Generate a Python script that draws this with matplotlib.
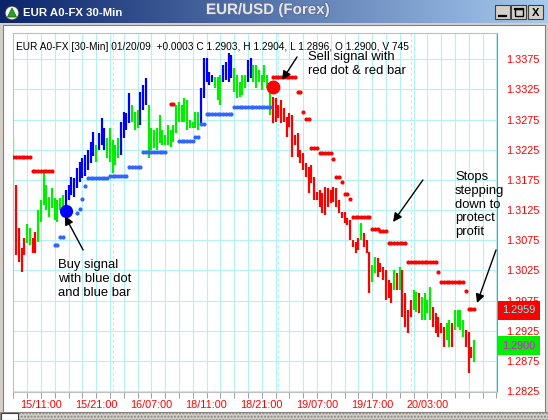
import numpy as np
import matplotlib.pyplot as plt
import matplotlib.transforms as mtransforms
import matplotlib.patheffects as pe
from matplotlib.patches import Rectangle, Circle, Polygon
from matplotlib.colors import LinearSegmentedColormap

plt.rcParams['font.family'] = ['Liberation Sans', 'DejaVu Sans']

# EUR A0-FX, 30-minute bars from 15/06:00 onwards (bar index on the x axis)
highs = [1.3241, 1.3166, 1.3095, 1.3062, 1.3079, 1.3102, 1.3095, 1.3079, 1.3089, 1.3125,
         1.3142, 1.3186, 1.3166, 1.3147, 1.3161, 1.3145, 1.3142, 1.3145, 1.3150, 1.3158,
         1.3166, 1.3180, 1.3178, 1.3195, 1.3205, 1.3211, 1.3216, 1.3224, 1.3238, 1.3254,
         1.3233, 1.3253, 1.3277, 1.3261, 1.3244, 1.3261, 1.3241, 1.3233, 1.3244, 1.3271,
         1.3287, 1.3286, 1.3319, 1.3299, 1.3287, 1.3291, 1.3321, 1.3332, 1.3344, 1.3299,
         1.3261, 1.3258, 1.3261, 1.3282, 1.3258, 1.3249, 1.3266, 1.3258, 1.3266, 1.3299,
         1.3304, 1.3299, 1.3311, 1.3307, 1.3274, 1.3271, 1.3287, 1.3287, 1.3327, 1.3377,
         1.3377, 1.3354, 1.3349, 1.3345, 1.3345, 1.3349, 1.3365, 1.3370, 1.3385, 1.3382,
         1.3360, 1.3349, 1.3337, 1.3349, 1.3349, 1.3374, 1.3377, 1.3365, 1.3365, 1.3357,
         1.3349, 1.3365, 1.3349, 1.3327, 1.3312, 1.3311, 1.3299, 1.3307, 1.3294, 1.3279,
         1.3286, 1.3282, 1.3249, 1.3253, 1.3224, 1.3220, 1.3203, 1.3196, 1.3200, 1.3180,
         1.3155, 1.3158, 1.3153, 1.3163, 1.3161, 1.3158, 1.3163, 1.3161, 1.3142, 1.3122,
         1.3122, 1.3112, 1.3108, 1.3075, 1.3072, 1.3079, 1.3103, 1.3087, 1.3075, 1.3056,
         1.3034, 1.3047, 1.3046, 1.3037, 1.3031, 1.3026, 1.3009, 1.3004, 1.3026, 1.3021,
         1.3031, 1.3026, 1.2988, 1.2959, 1.2976, 1.2993, 1.2989, 1.2988, 1.2981, 1.2988,
         1.2976, 1.2998, 1.2964, 1.2954, 1.2948, 1.2938, 1.2931, 1.2938, 1.2943, 1.2938,
         1.2959, 1.2959, 1.2959, 1.2943, 1.2926, 1.2923, 1.2898, 1.2910]
lows = [1.3166, 1.3051, 1.3039, 1.3023, 1.3051, 1.3071, 1.3067, 1.3054, 1.3054, 1.3072,
        1.3105, 1.3133, 1.3125, 1.3113, 1.3128, 1.3108, 1.3105, 1.3125, 1.3122, 1.3133,
        1.3142, 1.3150, 1.3147, 1.3161, 1.3172, 1.3178, 1.3181, 1.3191, 1.3203, 1.3215,
        1.3205, 1.3224, 1.3233, 1.3224, 1.3211, 1.3205, 1.3186, 1.3200, 1.3211, 1.3216,
        1.3244, 1.3258, 1.3269, 1.3271, 1.3258, 1.3261, 1.3266, 1.3291, 1.3299, 1.3211,
        1.3224, 1.3228, 1.3224, 1.3236, 1.3233, 1.3233, 1.3233, 1.3229, 1.3238, 1.3253,
        1.3271, 1.3271, 1.3271, 1.3258, 1.3261, 1.3261, 1.3261, 1.3258, 1.3266, 1.3311,
        1.3337, 1.3332, 1.3337, 1.3327, 1.3307, 1.3299, 1.3337, 1.3340, 1.3337, 1.3344,
        1.3321, 1.3311, 1.3312, 1.3316, 1.3327, 1.3337, 1.3344, 1.3337, 1.3327, 1.3337,
        1.3324, 1.3337, 1.3327, 1.3282, 1.3269, 1.3271, 1.3277, 1.3269, 1.3271, 1.3246,
        1.3263, 1.3213, 1.3233, 1.3213, 1.3203, 1.3191, 1.3180, 1.3153, 1.3170, 1.3142,
        1.3142, 1.3130, 1.3120, 1.3117, 1.3130, 1.3137, 1.3138, 1.3130, 1.3120, 1.3112,
        1.3103, 1.3100, 1.3075, 1.3064, 1.3054, 1.3059, 1.3075, 1.3064, 1.3054, 1.2988,
        1.3006, 1.3021, 1.3014, 1.3023, 1.3009, 1.2976, 1.2979, 1.2971, 1.2993, 1.2993,
        1.2993, 1.2948, 1.2931, 1.2921, 1.2948, 1.2959, 1.2956, 1.2954, 1.2943, 1.2943,
        1.2954, 1.2943, 1.2931, 1.2921, 1.2915, 1.2921, 1.2898, 1.2910, 1.2898, 1.2898,
        1.2926, 1.2931, 1.2926, 1.2915, 1.2898, 1.2855, 1.2880, 1.2873]

# bar colouring in runs: G = up, R = down / short, B = long after buy signal
side_runs = [('G', 1), ('R', 4), ('G', 2), ('R', 2), ('G', 10), ('B', 11), ('G', 1),
             ('B', 3), ('G', 5), ('B', 4), ('G', 3), ('B', 3), ('G', 19), ('B', 5),
             ('G', 3), ('B', 4), ('G', 5), ('B', 2), ('G', 7), ('R', 32), ('G', 1),
             ('R', 3), ('G', 2), ('R', 6), ('G', 1), ('R', 1), ('G', 1), ('R', 4),
             ('G', 2), ('R', 1), ('G', 4), ('R', 5), ('G', 2), ('R', 1), ('G', 4),
             ('R', 3), ('G', 1)]

# trailing stops: (first bar, last bar, stop price)
red_stops = [(0, 6, 1.3213), (7, 14, 1.3190), (57, 58, 1.3301), (94, 102, 1.3345),
             (103, 104, 1.3321), (105, 105, 1.3287), (106, 107, 1.3276), (108, 110, 1.3228),
             (111, 115, 1.3220), (116, 116, 1.3210), (117, 118, 1.3180), (119, 119, 1.3172),
             (120, 121, 1.3152), (122, 122, 1.3143), (123, 129, 1.3113), (130, 132, 1.3094),
             (133, 135, 1.3090), (136, 142, 1.3071), (143, 153, 1.3039), (154, 154, 1.3023),
             (155, 163, 1.3006), (164, 164, 1.2991), (165, 167, 1.2961)]
blue_stops = [(15, 16, 1.3067), (17, 18, 1.3080), (23, 23, 1.3120), (24, 24, 1.3127),
              (25, 25, 1.3143), (26, 26, 1.3165), (27, 34, 1.3178), (35, 41, 1.3182),
              (42, 46, 1.3196), (47, 55, 1.3221), (60, 65, 1.3239), (66, 67, 1.3246),
              (68, 69, 1.3268), (70, 79, 1.3284), (80, 93, 1.3296)]

buy_signal = (19, 1.3123)
sell_signal = (94, 1.3329)

tick_pos = [10, 30, 50, 70, 90, 110, 130, 150]
tick_labels = ['15/11:00', '15/21:00', '16/07:00', '18/11:00',
               '18/21:00', '19/07:00', '19/17:00', '20/03:00']
day_breaks = [36, 96, 144]
price_ticks = [1.3375, 1.3325, 1.3275, 1.3225, 1.3175, 1.3125,
               1.3075, 1.3025, 1.2975, 1.2925, 1.2875, 1.2825]
stop_quote = 1.2959
last_quote = 1.2900

header = ('EUR A0-FX [30-Min] 01/20/09  +0.0003 C 1.2903, H 1.2904, '
          'L 1.2896, O 1.2900, V 745')

COLORS = {'G': '#00ee00', 'R': '#ff0000', 'B': '#0000ff'}
GRID = '#b4f2f2'
W, H = 548, 420

fig = plt.figure(figsize=(W / 100, H / 100), dpi=100, facecolor='#d4d0c8')

# window chrome, drawn in pixel units
bg = fig.add_axes([0, 0, 1, 1])
bar_cmap = LinearSegmentedColormap.from_list('tbar', ['#0a246a', '#a6caf0'])
bg.imshow(np.linspace(0, 1, 256).reshape(1, -1), cmap=bar_cmap,
          extent=(0, W, 23, 0), aspect='auto')
bg.add_patch(Rectangle((3, 25), W - 6, 387, fc='white', ec='#808080', lw=0.8))
bg.add_patch(Rectangle((0, 412), W, 8, fc='#d4d0c8', ec='#808080', lw=0.6,
                       hatch='.....'))
bg.add_patch(Rectangle((1, 413), 17, 7, fc='white', ec='#404040', lw=0.8))
bg.add_patch(Circle((12, 13), 7, fc='#f4f4f4', ec='#303030', lw=0.8))
bg.add_patch(Polygon([(7.5, 17), (12, 8), (16.5, 17)], fc='#2aa02a', ec='#106010', lw=0.5))
bg.text(23, 13.5, 'EUR A0-FX 30-Min', color='white', fontsize=8.2,
        fontweight='bold', va='center')
bg.text(206, 10, 'EUR/USD (Forex)', color='#e6e6ea', fontsize=10.9,
        fontweight='bold', va='center',
        path_effects=[pe.withStroke(linewidth=1.4, foreground='#5a6f9a')])
for x0 in (495, 511, 528):
    bg.add_patch(Rectangle((x0, 5), 15, 14, fc='#d4d0c8', ec='#404040', lw=0.8))
bg.plot([499, 506], [16, 16], color='black', lw=1.6)
bg.add_patch(Rectangle((514.5, 8.5), 8, 7.5, fill=False, ec='black', lw=1.0))
bg.plot([514.5, 522.5], [8.8, 8.8], color='black', lw=1.6)
bg.text(535.5, 12.5, 'X', fontsize=8, fontweight='bold', ha='center', va='center')
bg.set_xlim(0, W)
bg.set_ylim(H, 0)
bg.axis('off')

# price panel
ax = fig.add_axes([12.5 / W, 1 - 392 / H, (497 - 12.5) / W, (392 - 33) / H])
ax.set_facecolor('none')
ax.set_xlim(-0.29, 175.25)
ax.set_ylim(1.28236, 1.34183)

sides = ''.join(s * n for s, n in side_runs)
idx = np.arange(len(highs))
ax.vlines(idx, lows, highs, colors=[COLORS[s] for s in sides], lw=1.6, zorder=2)

for runs, col in ((red_stops, '#ff0000'), (blue_stops, '#3366ff')):
    for first, last, level in runs:
        xs = np.arange(first, last + 1)
        ax.plot(xs, np.full(len(xs), level), 'o', ms=3.0, mew=0, color=col, zorder=3)

ax.plot(*buy_signal, 'o', ms=9.5, mew=0, color='#0000ff', zorder=4)
ax.plot(*sell_signal, 'o', ms=10, mew=0, color='#ff0000', zorder=4)

ax.set_xticks(tick_pos)
ax.set_xticklabels(tick_labels)
ax.set_xticks(np.arange(0, 176, 5), minor=True)
ax.tick_params(axis='x', which='both', length=4, width=0.7, color='#a0a0a0',
               labelcolor='red', labelsize=7.8, pad=1.5)
ax.yaxis.tick_right()
ax.set_yticks(price_ticks)
ax.set_yticklabels([f'{p:.4f}' for p in price_ticks])
ax.tick_params(axis='y', length=0, pad=6.5, labelcolor='red', labelsize=7.8)
ax.grid(axis='x', which='both', color=GRID, lw=0.8)
ax.grid(axis='y', which='major', color=GRID, lw=0.8)
for b in day_breaks:
    ax.axvline(b, color=GRID, lw=0.8, ls=(0, (3, 2)), zorder=1)
ax.set_axisbelow(True)
for name, sp in ax.spines.items():
    sp.set_color('#c0c0c0' if name != 'right' else '#909090')
    sp.set_linewidth(0.8)

# last stop / last price boxes on the price scale
px_y = mtransforms.blended_transform_factory(bg.transData, ax.transData)
ax.text(519, stop_quote, f'{stop_quote:.4f}', transform=px_y, ha='center', va='center',
        color='#66ffff', fontsize=7.8, zorder=6, clip_on=False,
        bbox=dict(boxstyle='square,pad=0.42', fc='#ff0000', ec='none'))
ax.text(519, last_quote, f'{last_quote:.4f}', transform=px_y, ha='center', va='center',
        color='#ff00ff', fontsize=7.8, zorder=6, clip_on=False,
        bbox=dict(boxstyle='square,pad=0.42', fc='#00ee00', ec='none'))

ax.text(16, 46.5, header, transform=bg.transData, fontsize=7.3, va='center', zorder=5)

# callouts
note = dict(transform=bg.transData, fontsize=9.4, va='top', ha='left', zorder=5,
            clip_on=False)
ax.text(308, 51, 'Sell signal with\nred dot & red bar', **note)
ax.text(58, 259, 'Buy signal\nwith blue dot\nand blue bar', **note)
ax.text(455, 171, 'Stops\nstepping\ndown to\nprotect\nprofit', **note)

arrow = dict(arrowstyle='-|>', color='black', lw=1.0, mutation_scale=13,
             shrinkA=0, shrinkB=0)
for tail, head in (((102.8, 1.33786), (97.4, 1.33405)),
                   ((25.3, 1.30588), (18.7, 1.31152)),
                   ((148.4, 1.31748), (137.6, 1.31052)),
                   ((174.9, 1.30588), (168.0, 1.29710))):
    ax.annotate('', xy=head, xytext=tail, arrowprops=arrow, annotation_clip=False,
                zorder=5)

fig.savefig('out.png', dpi=100, facecolor=fig.get_facecolor())
